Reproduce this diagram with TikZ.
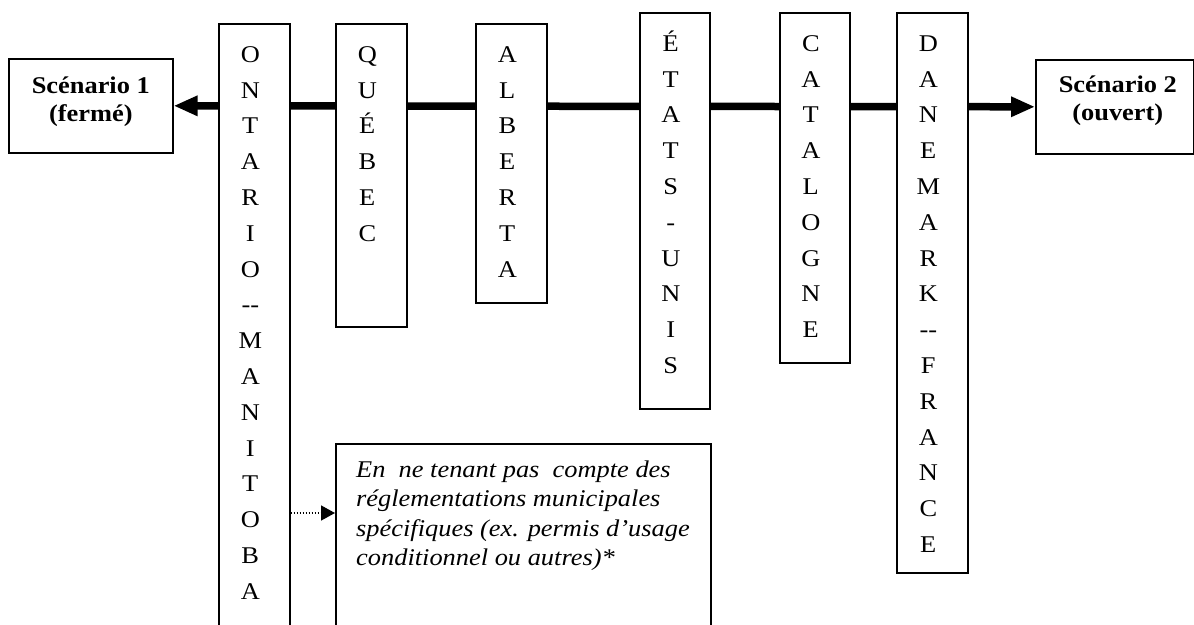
\documentclass[tikz,border=0pt]{standalone}
\usepackage{fontspec}
\setmainfont{Liberation Serif}[FakeStretch=1.1]
\usetikzlibrary{arrows.meta}
\begin{document}
\begin{tikzpicture}[x=1pt,y=-1pt,
  frame/.style={draw=black, line width=1.6pt, fill=white, rectangle, inner sep=0pt, anchor=north west},
  letters/.style={inner sep=0pt, align=center, anchor=north, xshift=-4pt,
                  font=\fontsize{24}{35.8}\selectfont},
  scentext/.style={inner sep=0pt, align=center, anchor=north,
                   font=\fontsize{24}{28.5}\selectfont\bfseries},
  notetext/.style={inner sep=0pt, align=left, anchor=north west,
                   font=\fontsize{24}{29.5}\selectfont\itshape},
  axis/.style={line width=7.5pt, {Triangle[length=24pt,width=19pt]}-{Triangle[length=24pt,width=19pt]}},
  pointer/.style={line width=1.5pt, dash pattern=on 1.5pt off 1.5pt,
                  -{Triangle[length=14pt,width=15pt]}}
]
\useasboundingbox (0,0) rectangle (1194,624);
\clip (0,0) rectangle (1194,624);

% the two scenario boxes at the ends of the axis
\node[frame, minimum width=164pt, minimum height=94pt] (s1) at (8,58) {};
\node[frame, minimum width=158pt, minimum height=94pt] (s2) at (1035,59) {};
\node[scentext] (s1t) at (s1.north) {\rule{0pt}{35pt}Scénario 1\\(fermé)};
\node[scentext, xshift=3pt] (s2t) at (s2.north) {\rule{0pt}{33pt}Scénario 2\\(ouvert)};

% the axis from closed to open
\draw[axis] (s1.east) -- (s2.west);

% the jurisdictions along the axis
\node[frame, minimum width=71pt, minimum height=620pt] (ont) at (218,23) {};
\node[letters] (ontt) at (ont.north) {\rule{0pt}{39pt}O\\N\\T\\A\\R\\I\\O\\-{}-\\M\\A\\N\\I\\T\\O\\B\\A};

\node[frame, minimum width=71pt, minimum height=303pt] (que) at (335,23) {};
\node[letters] (quet) at (que.north) {\rule{0pt}{39pt}Q\\U\\É\\B\\E\\C};

\node[frame, minimum width=71pt, minimum height=279pt] (alb) at (475,23) {};
\node[letters] (albt) at (alb.north) {\rule{0pt}{39pt}A\\L\\B\\E\\R\\T\\A};

\node[frame, minimum width=70pt, minimum height=396pt] (eta) at (639,12) {};
\node[letters] (etat) at (eta.north) {\rule{0pt}{39pt}É\\T\\A\\T\\S\\-\\U\\N\\I\\S};

\node[frame, minimum width=70pt, minimum height=350pt] (cat) at (779,12) {};
\node[letters] (catt) at (cat.north) {\rule{0pt}{39pt}C\\A\\T\\A\\L\\O\\G\\N\\E};

\node[frame, minimum width=71pt, minimum height=560pt] (dan) at (896,12) {};
\node[letters] (dant) at (dan.north) {\rule{0pt}{39pt}D\\A\\N\\E\\M\\A\\R\\K\\-{}-\\F\\R\\A\\N\\C\\E};

% the note attached to Ontario--Manitoba
\node[frame, minimum width=375pt, minimum height=200pt] (note) at (335,443) {};
\node[notetext] (notet) at (356,443) {\rule{0pt}{34pt}En~ ne tenant pas~ compte des\\
réglementations municipales\\
spécifiques (ex. permis d’usage\\
conditionnel ou autres)*};

\coordinate (py) at (0,513);
\draw[pointer] (ont.east |- py) -- (note.west |- py);
\end{tikzpicture}
\end{document}
